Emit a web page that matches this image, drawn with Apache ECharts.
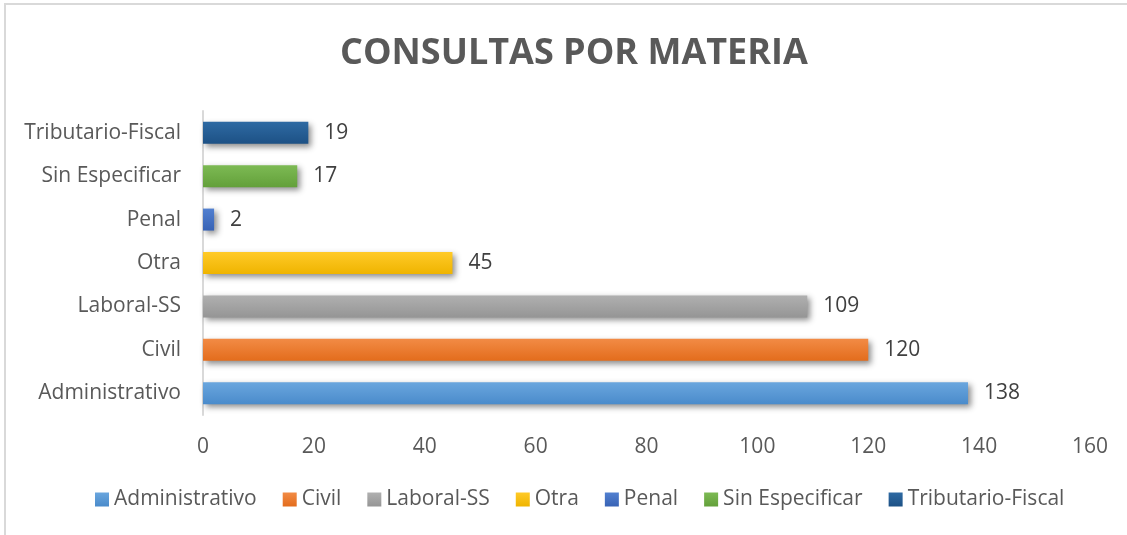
<!DOCTYPE html>
<html>
<head>
<meta charset="utf-8">
<script src="https://cdn.jsdelivr.net/npm/echarts@6/dist/echarts.min.js"></script>
<style>
  html, body { margin: 0; padding: 0; background: #fff; }
  #main { width: 1127px; height: 535px; }
</style>
</head>
<body>
<div id="main"></div>
<script>
// categorias (de abajo hacia arriba) y valores
var categories = ["Administrativo", "Civil", "Laboral-SS", "Otra", "Penal", "Sin Especificar", "Tributario-Fiscal"];
var values = [138, 120, 109, 45, 2, 17, 19];
var xTicks = [0, 20, 40, 60, 80, 100, 120, 140, 160];

var colors = [
  ["#6aa6de", "#4a8bcb"],
  ["#f28b45", "#e36c1c"],
  ["#b0b0b0", "#959595"],
  ["#ffca28", "#efb400"],
  ["#5280d0", "#3863b5"],
  ["#7dba54", "#63a03a"],
  ["#2e6aa3", "#1d5185"]
];

var chart = echarts.init(document.getElementById("main"));

var series = categories.map(function (name, i) {
  var data = categories.map(function (c, j) {
    return j == i ? values[j] : null;
  });
  return {
    name: name,
    type: "bar",
    stack: "total",
    barWidth: 22,
    data: data,
    itemStyle: {
      color: new echarts.graphic.LinearGradient(0, 0, 0, 1, [
        { offset: 0, color: colors[i][0] },
        { offset: 1, color: colors[i][1] },
      ]),
      shadowColor: "rgba(0,0,0,0.45)",
      shadowBlur: 6,
      shadowOffsetX: 3,
      shadowOffsetY: 3,
    },
    label: {
      show: true,
      position: "right",
      distance: 16,
      color: "#404040",
      fontSize: 21,
      fontFamily: "Open Sans",
    },
  };
});

var option = {
  animation: false,
  backgroundColor: "#fff",
  title: {
    text: "CONSULTAS POR MATERIA",
    left: 335,
    top: 31,
    textStyle: {
      fontFamily: "Open Sans",
      fontWeight: "bold",
      fontSize: 36,
      color: "#595959",
    },
  },
  graphic: [
    {
      type: "rect",
      shape: { x: 5, y: 4, width: 1200, height: 600 },
      style: { fill: null, stroke: "#d9d9d9", lineWidth: 2 },
      silent: true,
    },
  ],
  legend: {
    bottom: 20,
    left: 90,
    itemWidth: 14,
    itemHeight: 14,
    itemGap: 26,
    icon: "rect",
    textStyle: { color: "#595959", fontSize: 21, fontFamily: "Open Sans" },
  },
  grid: { left: 203, right: 37, top: 111, bottom: 120 },
  xAxis: {
    type: "value",
    min: 0,
    max: 160,
    interval: 20,
    axisLine: { show: false },
    axisTick: { show: false },
    splitLine: { show: false },
    axisLabel: {
      margin: 22,
      color: "#595959",
      fontSize: 21,
      fontFamily: "Open Sans",
      customValues: xTicks,
    },
  },
  yAxis: {
    type: "category",
    data: categories,
    axisLine: { show: true, lineStyle: { color: "#d9d9d9", width: 2 } },
    axisTick: { show: false },
    axisLabel: {
      margin: 22,
      color: "#595959",
      fontSize: 21,
      fontFamily: "Open Sans",
    },
  },
  series: series,
};

chart.setOption(option);
</script>
</body>
</html>
